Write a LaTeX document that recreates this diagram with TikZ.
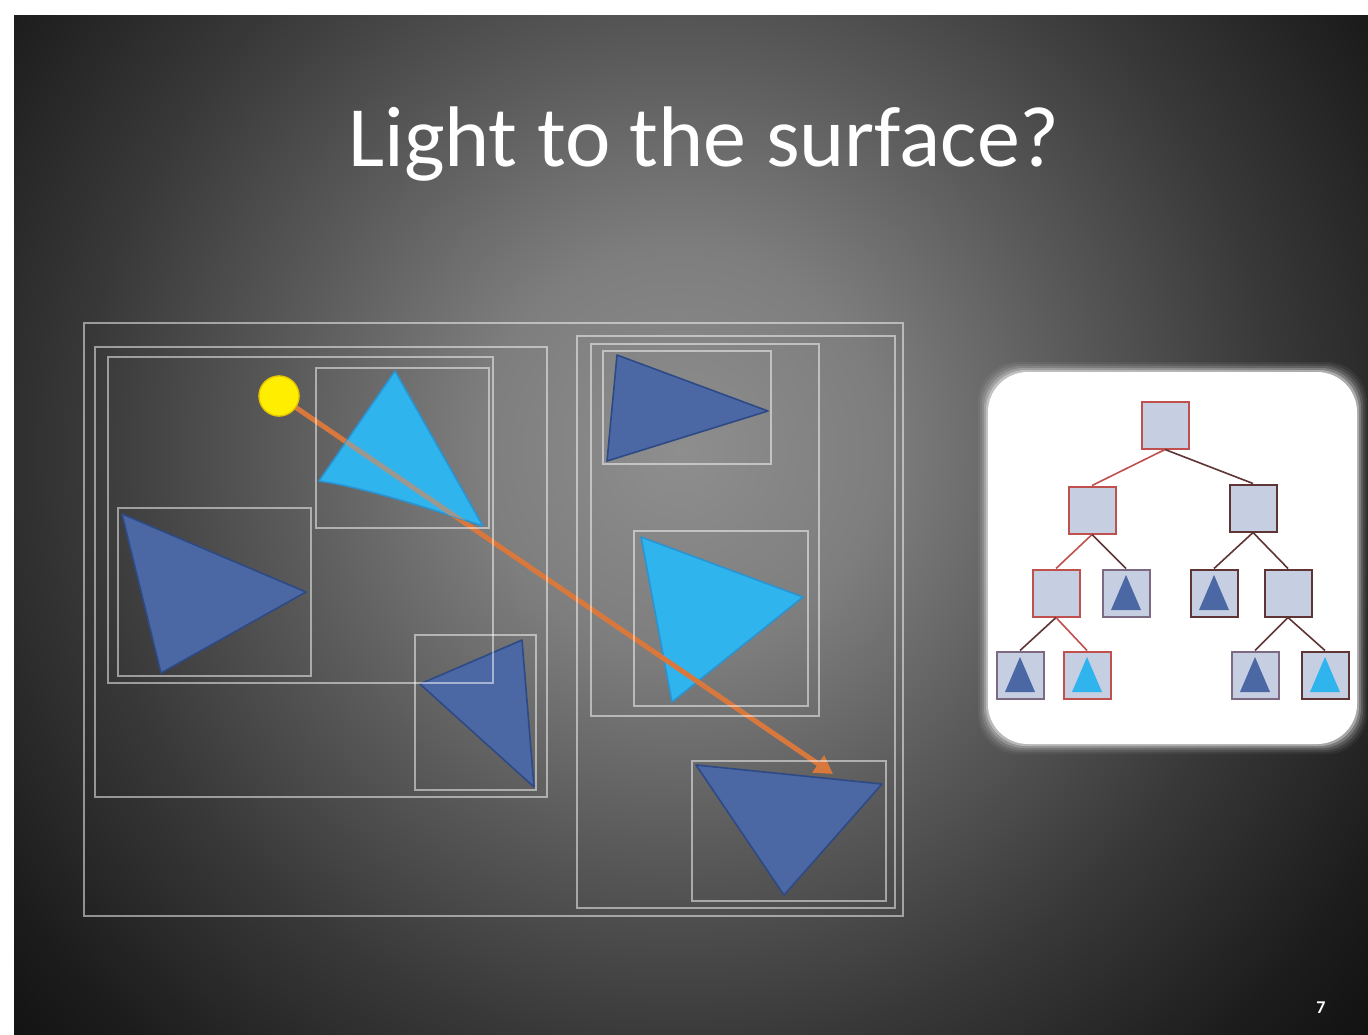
\documentclass[tikz,border=0pt]{standalone}
\usepackage{fontspec}
\setmainfont{Carlito}
\usetikzlibrary{arrows.meta}
\definecolor{bgA}{HTML}{8E8E8E}
\definecolor{bgB}{HTML}{7E7E7E}
\definecolor{bgC}{HTML}{5A5A5A}
\definecolor{bgD}{HTML}{383838}
\definecolor{bgE}{HTML}{1C1C1C}
\definecolor{bgF}{HTML}{080808}
\definecolor{bgG}{HTML}{000000}
\definecolor{dkblue}{HTML}{4B68A5}
\definecolor{dkline}{HTML}{2E4A86}
\definecolor{cyanf}{HTML}{30B4EE}
\definecolor{cyanl}{HTML}{2A94D2}
\definecolor{rayc}{HTML}{D9783C}
\definecolor{raygray}{HTML}{9C9890}
\definecolor{nodef}{HTML}{C6CEE2}
\definecolor{redb}{HTML}{C0504D}
\definecolor{darkb}{HTML}{5E3434}
\definecolor{purb}{HTML}{7D6A82}
\definecolor{lightY}{HTML}{FFEE00}
\definecolor{lightYl}{HTML}{E2C200}
\pgfdeclareradialshading{slidebg}{\pgfpoint{0bp}{0bp}}{color(0bp)=(bgA); color(5bp)=(bgB); color(10bp)=(bgC); color(15bp)=(bgD); color(20bp)=(bgE); color(25bp)=(bgF); color(50bp)=(bgF)}
\begin{document}
\begin{tikzpicture}[x=0.5pt,y=-0.5pt,
  bbox/.style={draw=white, draw opacity=0.5, line width=1pt},
  dtri/.style={fill=dkblue, draw=dkline, line width=0.8pt, line join=round},
  ctri/.style={fill=cyanf, draw=cyanl, line width=0.8pt, line join=round},
  tnode/.style={draw=#1, fill=nodef, minimum size=23.5pt, inner sep=0pt, line width=1pt},
  tedge/.style={draw=#1, line width=0.8pt},
  ttd/.style={fill=dkblue},
  ttc/.style={fill=cyanf},
  ray/.style={draw=rayc, line width=2.5pt}]
% page
\useasboundingbox (0,0) rectangle (1368,1034);
\fill[white] (0,0) rectangle (1368,1034);
\begin{scope}
  \clip (14,15) rectangle (1368,1034);
  \fill[bgF] (14,15) rectangle (1368,1034);
  \shade[shading=slidebg] (680,450) circle (1000);
\end{scope}
% title
\node[anchor=base, text=white, font=\fontsize{43}{51}\selectfont, inner sep=0pt] (title) at (704,166) {Light to the surface?};
% slide number
\node[anchor=base, text=white, font=\bfseries\fontsize{9}{11}\selectfont, inner sep=0pt] (num) at (1321,1013) {7};

% triangles of the scene
\draw[dtri] (122,514) -- (306,592) -- (161,673) -- cycle;
\draw[dtri] (522,640) -- (420,684) -- (534,787) -- cycle;
\draw[dtri] (617,355) -- (768,411) -- (607,461) -- cycle;
\draw[dtri] (696,765) -- (882,784) -- (784,895) -- cycle;
\draw[ctri] (641,537) -- (803,597) -- (672,702) -- cycle;

% light and ray
\node[circle, fill=lightY, draw=lightYl, line width=0.6pt, minimum size=20pt, inner sep=0pt] (light) at (279,396) {};
\coordinate (hit) at (833,774);
\draw[ray, -{Triangle[length=9pt,width=10pt]}] (light.center) -- (hit);
\node[circle, fill=lightY, draw=lightYl, line width=0.6pt, minimum size=20pt, inner sep=0pt] at (279,396) {};
% cyan triangle in front of the ray
\draw[ctri] (395,371) -- (483,526) .. controls (425,507) and (362,487) .. (319,481) -- cycle;
\begin{scope}
  \clip (395,371) -- (483,526) .. controls (425,507) and (362,487) .. (319,481) -- cycle;
  \draw[draw=raygray, line width=2.5pt] (light.center) -- (hit);
\end{scope}

% bounding boxes
\draw[bbox] (84,323) rectangle (903,916);
\draw[bbox] (95,347) rectangle (547,797);
\draw[bbox] (108,357) rectangle (493,683);
\draw[bbox] (316,368) rectangle (489,528);
\draw[bbox] (118,508) rectangle (311,676);
\draw[bbox] (415,635) rectangle (536,790);
\draw[bbox] (577,336) rectangle (895,908);
\draw[bbox] (591,344) rectangle (819,716);
\draw[bbox] (603,351) rectangle (771,464);
\draw[bbox] (634,531) rectangle (808,706);
\draw[bbox] (692,761) rectangle (886,901);

% tree picture panel
\foreach \e/\o in {10/0.05,8/0.08,6/0.12,4/0.2,2/0.35}{
  \fill[white, fill opacity=\o, rounded corners=20pt] (988-\e,372-\e) rectangle (1357+\e,744+\e);
}
\fill[white, rounded corners=20pt] (988,372) rectangle (1357,744);

\node[tnode=redb] (root) at (1165,425) {};
\node[tnode=redb] (L) at (1092,510) {};
\node[tnode=darkb] (R) at (1253,508) {};
\node[tnode=redb] (LL) at (1056,593) {};
\node[tnode=purb] (LR) at (1126,593) {};
\node[tnode=darkb] (RL) at (1214,593) {};
\node[tnode=darkb] (RR) at (1288,593) {};
\node[tnode=purb] (LLa) at (1020,675) {};
\node[tnode=redb] (LLb) at (1087,675) {};
\node[tnode=purb] (RRa) at (1255,675) {};
\node[tnode=darkb] (RRb) at (1325,675) {};

\draw[tedge=redb] (root.south) -- (L.north);
\draw[tedge=darkb] (root.south) -- (R.north);
\draw[tedge=redb] (L.south) -- (LL.north);
\draw[tedge=darkb] (L.south) -- (LR.north);
\draw[tedge=darkb] (R.south) -- (RL.north);
\draw[tedge=darkb] (R.south) -- (RR.north);
\draw[tedge=darkb] (LL.south) -- (LLa.north);
\draw[tedge=redb] (LL.south) -- (LLb.north);
\draw[tedge=darkb] (RR.south) -- (RRa.north);
\draw[tedge=darkb] (RR.south) -- (RRb.north);

\foreach \n/\s in {LR/ttd, RL/ttd, LLa/ttd, LLb/ttc, RRa/ttd, RRb/ttc}{
  \fill[\s] ([shift={(0,-18)}]\n.center) -- ([shift={(-15,17)}]\n.center) -- ([shift={(15,17)}]\n.center) -- cycle;
}
\end{tikzpicture}
\end{document}
